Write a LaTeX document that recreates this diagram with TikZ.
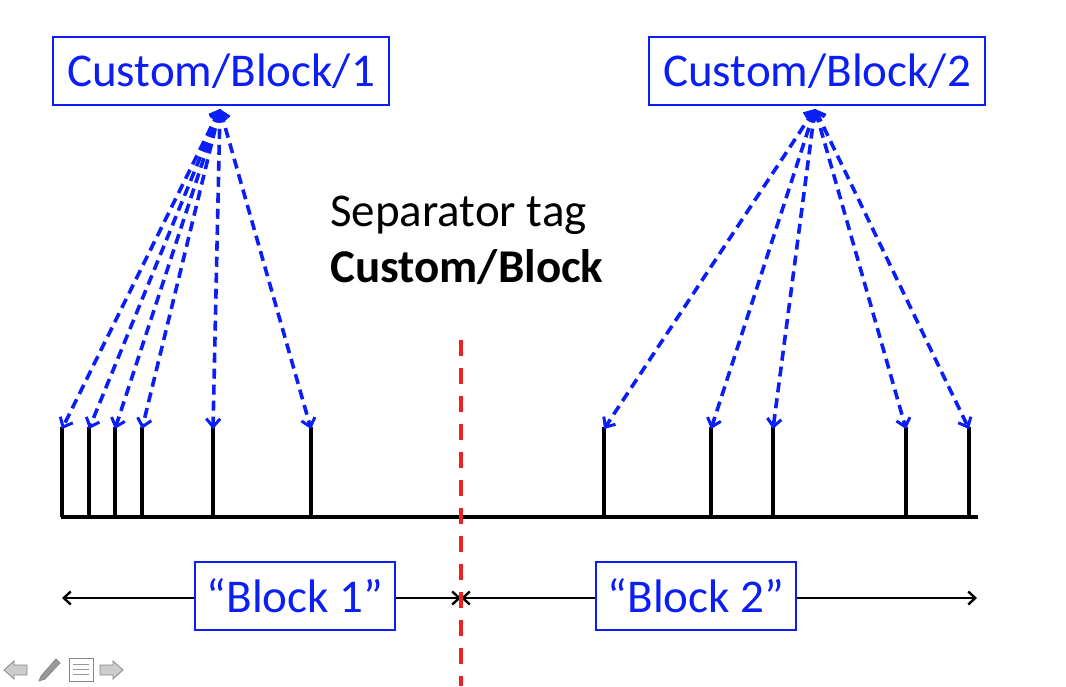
\documentclass[tikz,border=0pt]{standalone}
\usepackage{fontspec}
\setmainfont{Carlito}
\usetikzlibrary{arrows.meta}
\definecolor{bblue}{RGB}{10,30,245}
\definecolor{sepred}{RGB}{235,35,35}
\definecolor{icongray}{RGB}{170,170,170}
\tikzset{
  lbl/.style={draw=bblue, line width=1.2pt, text=bblue, font=\fontsize{47}{50}\selectfont, inner sep=0pt, minimum height=68pt},
  link/.style={draw=bblue, line width=3.6pt, dash pattern=on 10pt off 6pt, {Straight Barb[length=8pt,width=14pt,line width=3pt]}-{Straight Barb[length=8pt,width=14pt,line width=3pt]}},
  tick/.style={line width=3.2pt, black},
  span/.style={line width=2.6pt, black, {Straight Barb[length=7pt,width=13pt,line width=2.4pt]}-{Straight Barb[length=7pt,width=13pt,line width=2.4pt]}},
  sep/.style={line width=3.8pt, sepred, dash pattern=on 16pt off 12pt},
  icon/.style={fill=icongray!60, draw=icongray!80!black, line width=0.8pt}
}
\begin{document}
\begin{tikzpicture}[x=1pt,y=-1pt]
\useasboundingbox (0,0) rectangle (1066,686);
% top boxes
\node[lbl, minimum width=336pt] (b1) at (221,71) {Custom/Block/1};
\node[lbl, minimum width=336pt] (b2) at (817,71) {Custom/Block/2};
\coordinate (s1) at (220,109);
\coordinate (s2) at (815,109);
% separator text
\node[anchor=west, inner sep=0pt, font=\fontsize{47}{56}\selectfont, align=left] (tag) at (330,240) {Separator tag\\\textbf{Custom/Block}};
% ticks
\foreach \i/\x in {1/62,2/89,3/115,4/142,5/213,6/311,7/604,8/711,9/773,10/906,11/969}{
  \coordinate (t\i) at (\x,427);
  \coordinate (u\i) at (\x,517);
  \draw[tick] (t\i) -- (u\i);
}
\coordinate (baseL) at (61,517);
\coordinate (baseR) at (978,517);
\draw[tick] (baseL) -- (baseR);
% dashed links
\foreach \i in {1,...,6}{ \draw[link] (s1) -- ([yshift=-2pt]t\i); }
\foreach \i in {7,...,11}{ \draw[link] (s2) -- ([yshift=-2pt]t\i); }
% separator line
\coordinate (sepT) at (461,340);
\coordinate (sepB) at (461,686);
% bottom spans
\coordinate (aL) at (62,598);
\coordinate (aM) at (461,598);
\coordinate (aR) at (977,598);
\draw[span] (aL) -- (aM);
\draw[span] (aM) -- (aR);
\node[lbl, fill=white, minimum width=200pt] (k1) at (295,596) {“Block 1”};
\node[lbl, fill=white, minimum width=200pt] (k2) at (696,596) {“Block 2”};
\draw[sep] (sepT) -- (sepB);
% navigation icons
\draw[icon] (4,670) -- (14,661) -- (14,665) -- (27,665) -- (27,675) -- (14,675) -- (14,679) -- cycle;
\draw[icon, fill=icongray!90!black] (39,681) -- (41,676) -- (56,659) -- (60,663) -- (45,679) -- cycle;
\draw[icon, fill=white] (69,658) rectangle (93,681);
\draw[icongray!90!black, line width=1pt] (73,664) -- (89,664) (73,669) -- (89,669) (73,674) -- (89,674);
\draw[icon] (123,670) -- (113,661) -- (113,665) -- (100,665) -- (100,675) -- (113,675) -- (113,679) -- cycle;
\end{tikzpicture}
\end{document}
